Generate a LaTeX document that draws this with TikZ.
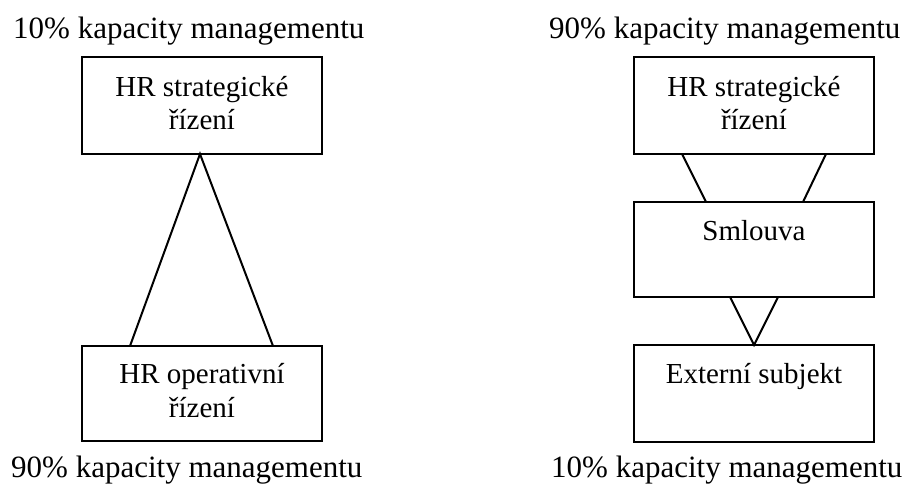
\documentclass[tikz,border=0pt]{standalone}
\usepackage{fontspec}
\setmainfont{Liberation Serif}
\begin{document}
\begin{tikzpicture}[x=1pt,y=-1pt,
  box/.style={draw=black,line width=2pt,minimum width=240pt,inner sep=0pt,outer sep=0pt},
  boxtext/.style={inner sep=0pt,anchor=base,font=\fontsize{29}{32}\selectfont},
  caption/.style={inner sep=0pt,anchor=base west,font=\fontsize{31}{37}\selectfont},
  link/.style={line width=2pt,line join=miter}]
\useasboundingbox (0,0) rectangle (912,484);

% left column: strategic and operational HR
\node[box,minimum height=97pt] (ls) at (202,105.5) {};
\node[box,minimum height=95pt] (lo) at (202,393.5) {};
\node[boxtext] (lst1) at (202,97) {HR strategické};
\node[boxtext] (lst2) at (202,129) {řízení};
\node[boxtext] (lot1) at (202,383) {HR operativní};
\node[boxtext] (lot2) at (202,417) {řízení};
\node[caption] (lcap1) at (13,39) {10\% kapacity managementu};
\node[caption] (lcap2) at (11,477) {90\% kapacity managementu};
\draw[link] ([xshift=48pt]lo.north west) -- ([xshift=-2pt]ls.south) -- ([xshift=-49pt]lo.north east);

% right column: strategic HR, contract, external party
\node[box,minimum height=97pt] (rs) at (754,105.5) {};
\node[box,minimum height=95pt] (rc) at (754,249.5) {};
\node[box,minimum height=97pt] (re) at (754,393.5) {};
\node[boxtext] (rst1) at (754,97) {HR strategické};
\node[boxtext] (rst2) at (754,129) {řízení};
\node[boxtext] (rct) at (754,240) {Smlouva};
\node[boxtext] (ret) at (754,383) {Externí subjekt};
\node[caption] (rcap1) at (549,39) {90\% kapacity managementu};
\node[caption] (rcap2) at (551,477) {10\% kapacity managementu};
\draw[link] ([xshift=48pt]rs.south west) -- ([xshift=72pt]rc.north west);
\draw[link] ([xshift=-48pt]rs.south east) -- ([xshift=-71pt]rc.north east);
\draw[link] ([xshift=96pt]rc.south west) -- (re.north) -- ([xshift=-96pt]rc.south east);
\end{tikzpicture}
\end{document}
